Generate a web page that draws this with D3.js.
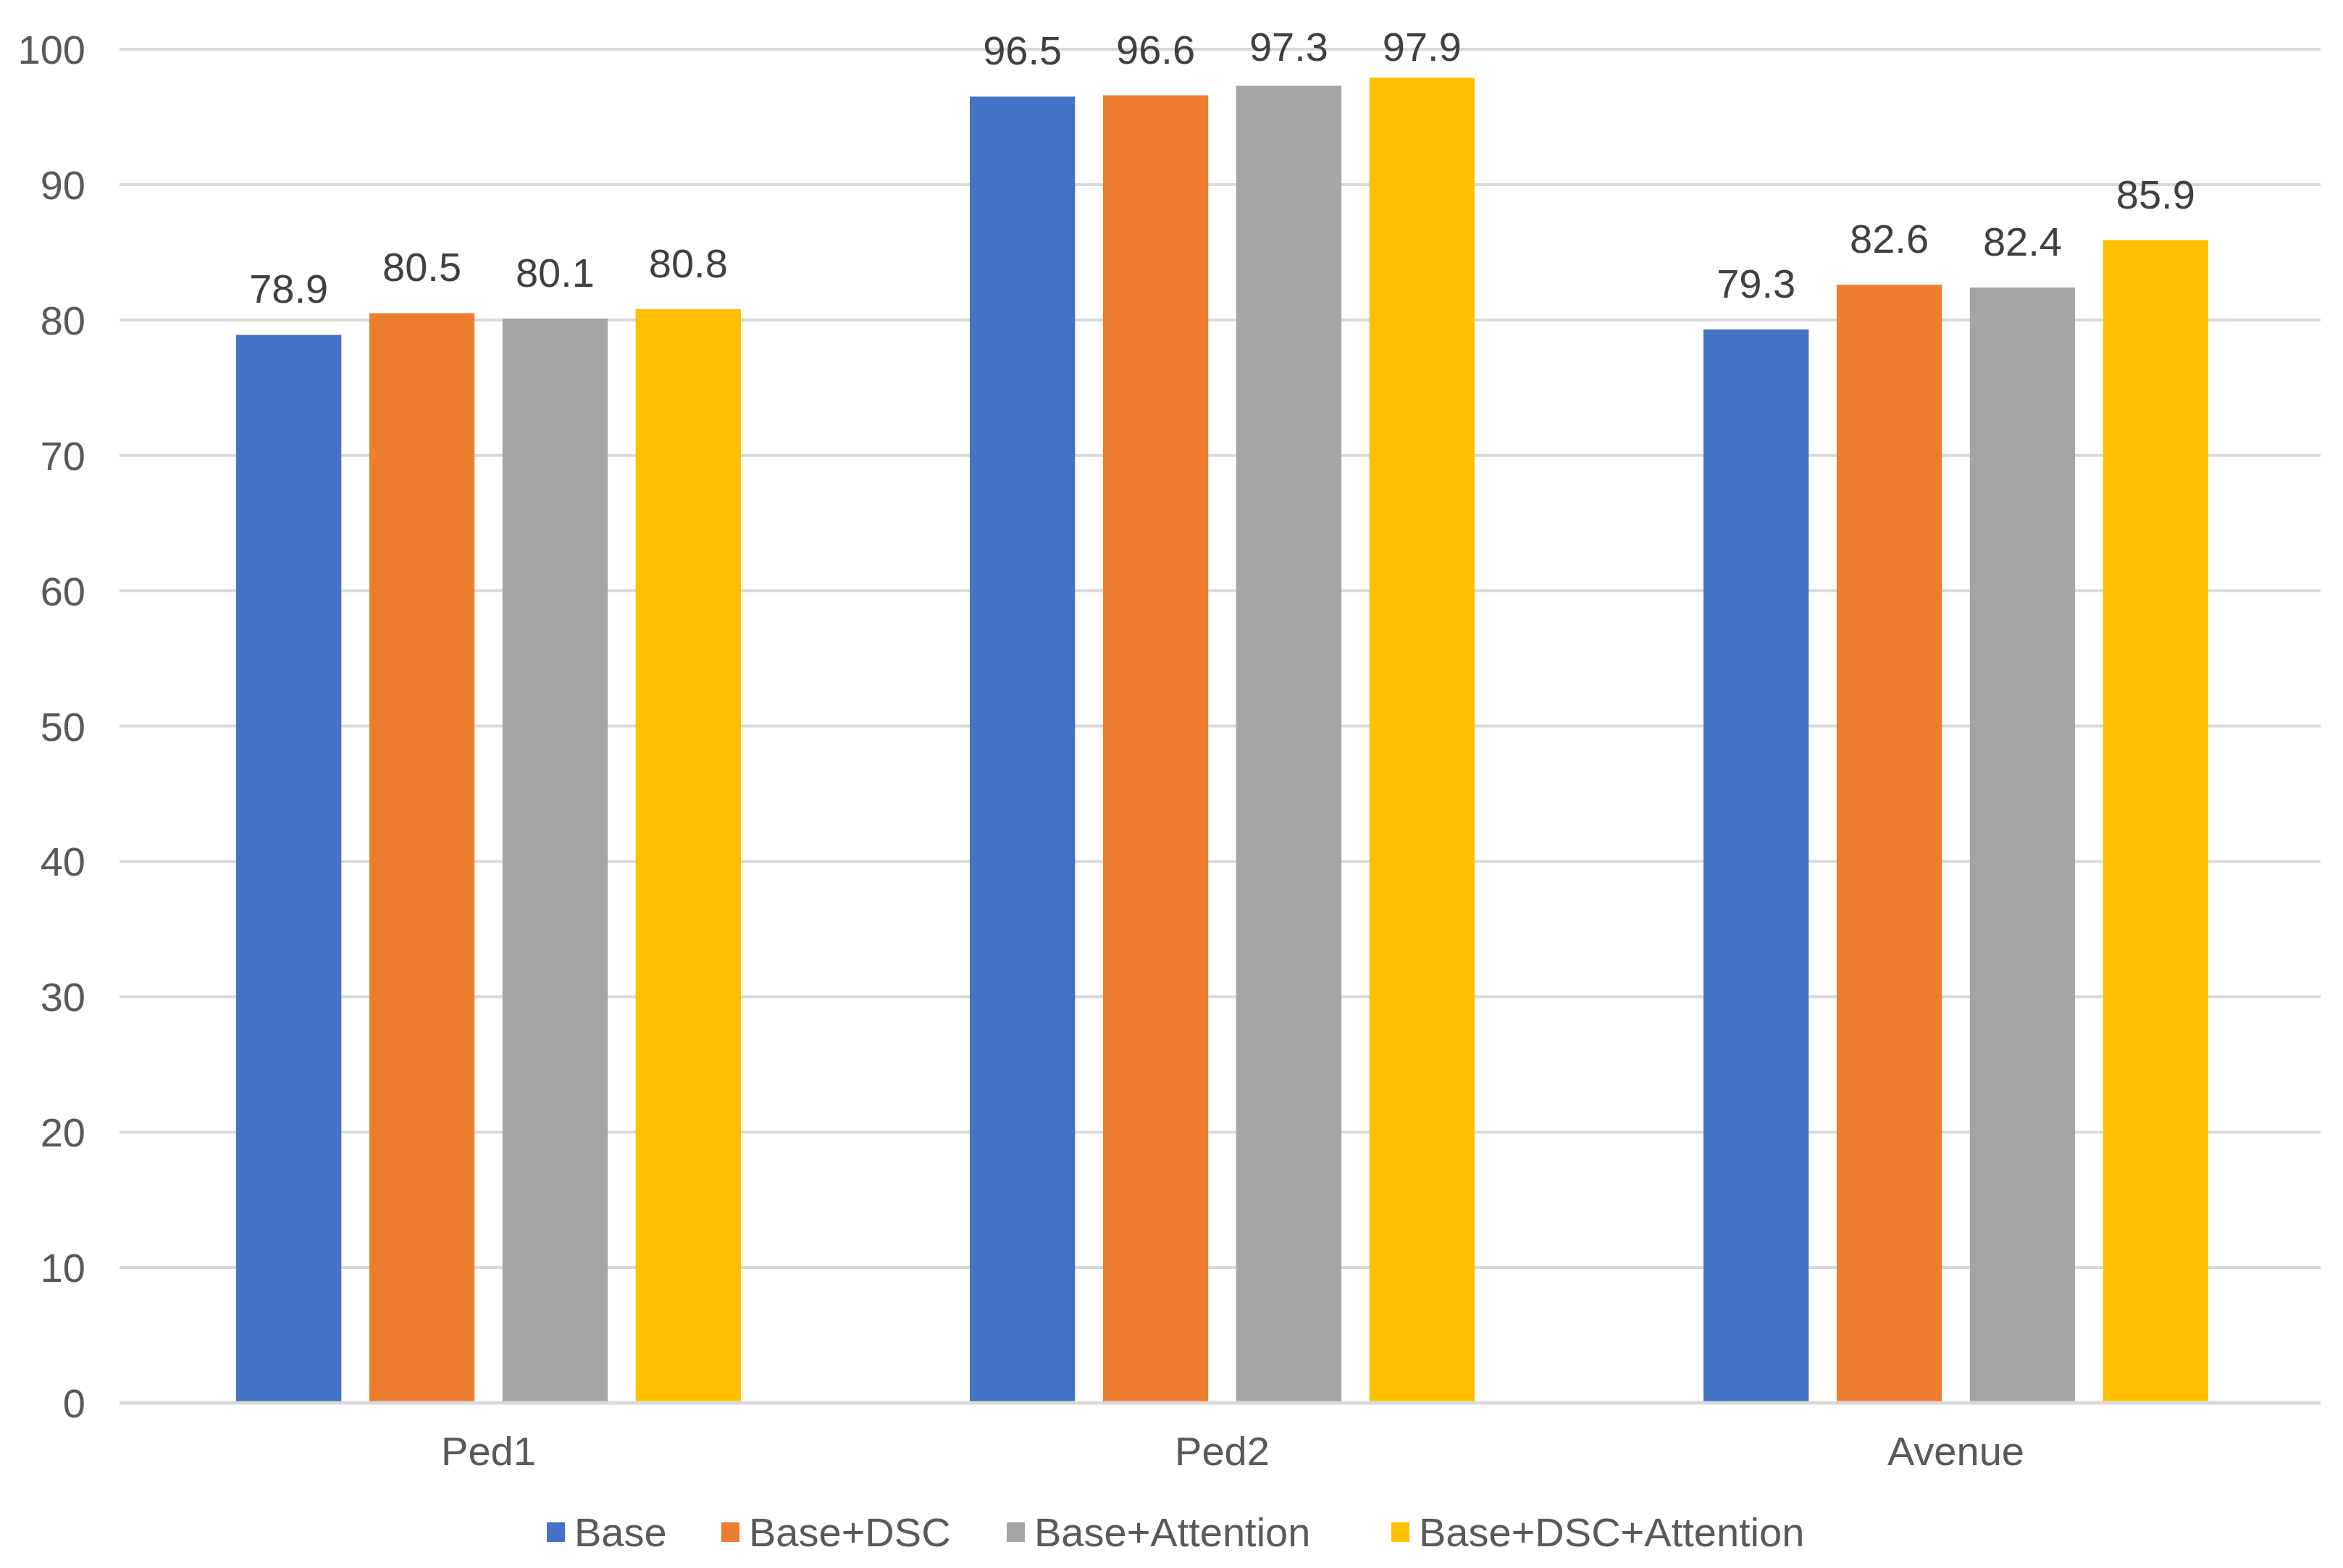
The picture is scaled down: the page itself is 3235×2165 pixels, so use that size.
<!DOCTYPE html>
<html>
<head>
<meta charset="utf-8">
<script src="https://cdn.jsdelivr.net/npm/d3@7"></script>
<style>
  body { margin: 0; background: #ffffff; }
  svg text { font-family: "Liberation Sans", Arial, sans-serif; }
</style>
</head>
<body>
<div id="grafico"></div>
<script>
// Datos del gráfico
const categorias = ["Ped1", "Ped2", "Avenue"];
const series = ["Base", "Base+DSC", "Base+Attention", "Base+DSC+Attention"];
const colores = ["#4472C4", "#ED7D31", "#A5A5A5", "#FFC000"];
const valoresBase = [78.9, 96.5, 79.3];
const valoresDSC = [80.5, 96.6, 82.6];
const valoresAttention = [80.1, 97.3, 82.4];
const valoresDSCAttention = [80.8, 97.9, 85.9];
const ticksY = [0, 10, 20, 30, 40, 50, 60, 70, 80, 90, 100];

const valores = [valoresBase, valoresDSC, valoresAttention, valoresDSCAttention];

const ancho = 3235;
const alto = 2165;

const svg = d3
  .select("#grafico")
  .append("svg")
  .attr("width", ancho)
  .attr("height", alto);

// Escalas
const x = d3.scaleBand()
  .domain(categorias)
  .range([168, 3207])
  .paddingInner(0.312)
  .paddingOuter(0.156);

const xSerie = d3.scaleBand()
  .domain(series)
  .range([0, x.bandwidth()])
  .paddingInner(0.21);

const y = d3.scaleLinear()
  .domain([0, 100])
  .range([1937, 68]);

// Líneas de cuadrícula
svg.append("g")
  .selectAll("line")
  .data(ticksY)
  .join("line")
  .attr("x1", 165)
  .attr("x2", 3204)
  .attr("y1", d => y(d))
  .attr("y2", d => y(d))
  .attr("stroke", "#D9D9D9")
  .attr("stroke-width", 4);

// Etiquetas del eje Y
svg.append("g")
  .selectAll("text")
  .data(ticksY)
  .join("text")
  .attr("x", 118)
  .attr("y", d => y(d) + 20)
  .attr("text-anchor", "end")
  .attr("font-size", 56)
  .attr("fill", "#595959")
  .text(d => d);

// Barras
series.forEach((serie, i) => {
  const g = svg.append("g");
  g.selectAll("rect")
    .data(categorias)
    .join("rect")
    .attr("x", c => x(c) + xSerie(serie))
    .attr("y", (c, j) => y(valores[i][j]))
    .attr("width", xSerie.bandwidth())
    .attr("height", (c, j) => y(0) - y(valores[i][j]))
    .attr("fill", colores[i]);

  // Las etiquetas no suben más allá del borde superior del área
  g.selectAll("text")
    .data(categorias)
    .join("text")
    .attr("x", c => x(c) + xSerie(serie) + xSerie.bandwidth() / 2)
    .attr("y", (c, j) => Math.max(y(valores[i][j]) - 44, 84))
    .attr("text-anchor", "middle")
    .attr("font-size", 56)
    .attr("fill", "#404040")
    .text((c, j) => valores[i][j].toFixed(1));
});

// Línea base (eje X)
svg.append("line")
  .attr("x1", 165)
  .attr("x2", 3204)
  .attr("y1", y(0))
  .attr("y2", y(0))
  .attr("stroke", "#D9D9D9")
  .attr("stroke-width", 5);

// Etiquetas del eje X
svg.append("g")
  .selectAll("text")
  .data(categorias)
  .join("text")
  .attr("x", c => x(c) + x.bandwidth() / 2)
  .attr("y", 2023)
  .attr("text-anchor", "middle")
  .attr("font-size", 56)
  .attr("fill", "#595959")
  .text(c => c);

// Leyenda
const posLeyenda = [755, 996, 1390, 1921];
const leyenda = svg.append("g");
series.forEach((serie, i) => {
  leyenda.append("rect")
    .attr("x", posLeyenda[i])
    .attr("y", 2102)
    .attr("width", 25)
    .attr("height", 27)
    .attr("fill", colores[i]);
  leyenda.append("text")
    .attr("x", posLeyenda[i] + 38)
    .attr("y", 2135)
    .attr("font-size", 56)
    .attr("fill", "#595959")
    .text(serie);
});
</script>
</body>
</html>
